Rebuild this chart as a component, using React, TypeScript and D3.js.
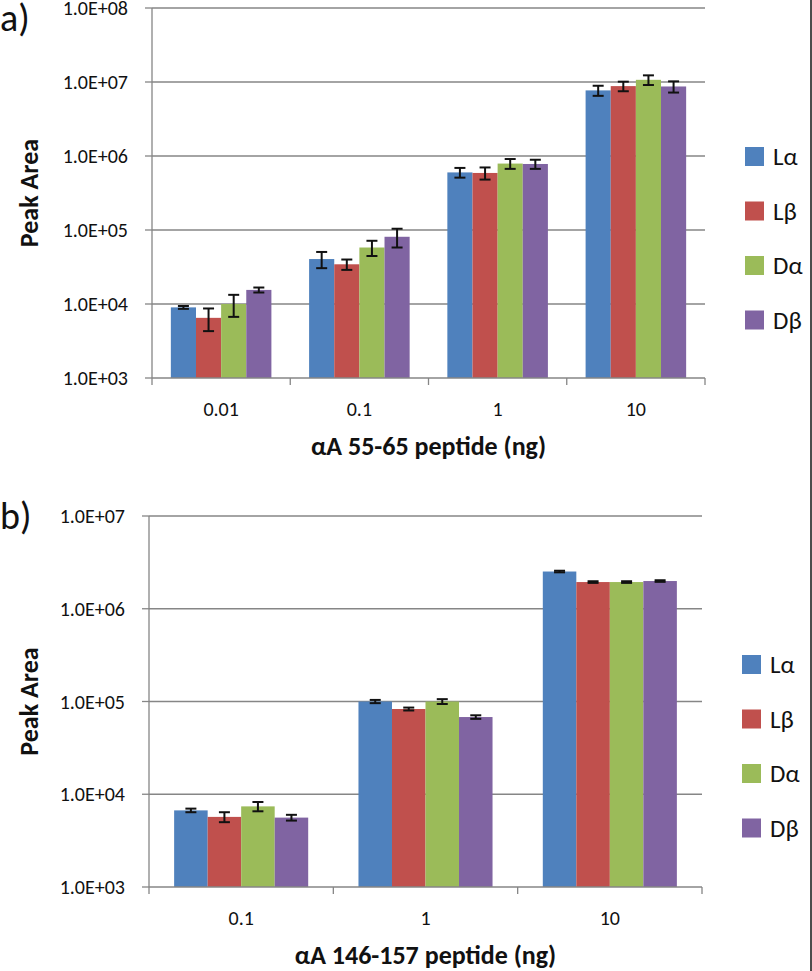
import React, { useEffect, useRef } from "react";
import * as d3 from "d3";

const W = 812;
const H = 971;

const seriesNames = ["Lα", "Lβ", "Dα", "Dβ"];
const seriesColors = ["#4F81BD", "#C0504D", "#9BBB59", "#8064A2"];

// panel a) αA 55-65
const dosesA = ["0.01", "0.1", "1", "10"];
const aLalpha = [9.0e3, 4.05e4, 6.0e5, 7.7e6];
const aLbeta = [6.5e3, 3.44e4, 5.9e5, 8.8e6];
const aDalpha = [1.0e4, 5.8e4, 7.9e5, 1.07e7];
const aDbeta = [1.55e4, 8.1e4, 7.8e5, 8.7e6];
const aLalphaErr = [4e2, 1.0e4, 9e4, 1.2e6];
const aLbetaErr = [2.2e3, 5.5e3, 1.1e5, 1.3e6];
const aDalphaErr = [3.3e3, 1.35e4, 1.2e5, 1.6e6];
const aDbetaErr = [1.2e3, 2.3e4, 1.1e5, 1.5e6];
const ticksA = [1e3, 1e4, 1e5, 1e6, 1e7, 1e8];

// panel b) αA 146-157
const dosesB = ["0.1", "1", "10"];
const bLalpha = [6.7e3, 1.0e5, 2.52e6];
const bLbeta = [5.7e3, 8.3e4, 1.94e6];
const bDalpha = [7.4e3, 1.0e5, 1.94e6];
const bDbeta = [5.6e3, 6.8e4, 1.99e6];
const bLalphaErr = [3e2, 4e3, 5e4];
const bLbetaErr = [7e2, 3e3, 4e4];
const bDalphaErr = [8.5e2, 6e3, 4e4];
const bDbetaErr = [4e2, 3e3, 4e4];
const ticksB = [1e3, 1e4, 1e5, 1e6, 1e7];

const FONT = "Carlito, Lato, 'Open Sans', sans-serif";
const GRID = "#868686";

type Panel = {
  tag: string;
  xTitle: string;
  doses: string[];
  values: number[][];
  errors: number[][];
  ticks: number[];
  left: number;
  right: number;
  top: number;
  bottom: number;
  tagY: number;
  legendX: number;
  legendY: number;
};

const panels: Panel[] = [
  {
    tag: "a)",
    xTitle: "αA 55-65 peptide (ng)",
    doses: dosesA,
    values: [aLalpha, aLbeta, aDalpha, aDbeta],
    errors: [aLalphaErr, aLbetaErr, aDalphaErr, aDbetaErr],
    ticks: ticksA,
    left: 152,
    right: 705,
    top: 8,
    bottom: 378,
    tagY: 31,
    legendX: 745,
    legendY: 147,
  },
  {
    tag: "b)",
    xTitle: "αA 146-157 peptide (ng)",
    doses: dosesB,
    values: [bLalpha, bLbeta, bDalpha, bDbeta],
    errors: [bLalphaErr, bLbetaErr, bDalphaErr, bDbetaErr],
    ticks: ticksB,
    left: 149,
    right: 702,
    top: 516,
    bottom: 887,
    tagY: 529,
    legendX: 742,
    legendY: 655,
  },
];

const fmtTick = (v: number) => {
  const e = Math.round(Math.log10(v));
  return `1.0E+${String(e).padStart(2, "0")}`;
};

const App = () => {
  const svgRef = useRef<SVGSVGElement>(null);

  useEffect(() => {
    const svg = d3.select(svgRef.current);
    svg.selectAll("*").remove();

    svg.append("rect").attr("width", W).attr("height", H).attr("fill", "#fff");

    panels.forEach((p) => {
      const g = svg.append("g");

      const y = d3
        .scaleLog()
        .domain([p.ticks[0], p.ticks[p.ticks.length - 1]])
        .range([p.bottom, p.top]);

      const x = d3.scaleBand().domain(p.doses).range([p.left, p.right]).padding(0);
      const xs = d3
        .scaleBand()
        .domain(seriesNames)
        .range([0, x.bandwidth()])
        .paddingInner(0)
        .paddingOuter(0.75);

      // gridlines
      g.selectAll(".grid")
        .data(p.ticks.slice(1))
        .enter()
        .append("line")
        .attr("x1", p.left)
        .attr("x2", p.right)
        .attr("y1", (d) => y(d))
        .attr("y2", (d) => y(d))
        .attr("stroke", GRID)
        .attr("stroke-width", 1.3);

      // bars
      seriesNames.forEach((s, si) => {
        g.selectAll(`.bar${si}`)
          .data(p.doses)
          .enter()
          .append("rect")
          .attr("x", (d) => x(d)! + xs(s)!)
          .attr("width", xs.bandwidth())
          .attr("y", (_, i) => y(p.values[si][i]))
          .attr("height", (_, i) => p.bottom - y(p.values[si][i]))
          .attr("fill", seriesColors[si]);
      });

      // error bars
      seriesNames.forEach((s, si) => {
        p.doses.forEach((d, i) => {
          const cx = x(d)! + xs(s)! + xs.bandwidth() / 2;
          const v = p.values[si][i];
          const e = p.errors[si][i];
          const y1 = y(v + e);
          const y2 = y(Math.max(v - e, p.ticks[0]));
          const cap = 5.5;
          const eg = g.append("g").attr("stroke", "#111").attr("stroke-width", 2);
          eg.append("line").attr("x1", cx).attr("x2", cx).attr("y1", y1).attr("y2", y2);
          eg.append("line").attr("x1", cx - cap).attr("x2", cx + cap).attr("y1", y1).attr("y2", y1);
          eg.append("line").attr("x1", cx - cap).attr("x2", cx + cap).attr("y1", y2).attr("y2", y2);
        });
      });

      // y axis
      g.append("line")
        .attr("x1", p.left)
        .attr("x2", p.left)
        .attr("y1", p.top)
        .attr("y2", p.bottom)
        .attr("stroke", GRID)
        .attr("stroke-width", 1.3);
      g.selectAll(".ytick")
        .data(p.ticks)
        .enter()
        .append("line")
        .attr("x1", p.left - 7)
        .attr("x2", p.left)
        .attr("y1", (d) => y(d))
        .attr("y2", (d) => y(d))
        .attr("stroke", GRID)
        .attr("stroke-width", 1.3);
      g.selectAll(".ylab")
        .data(p.ticks)
        .enter()
        .append("text")
        .attr("x", p.left - 24)
        .attr("y", (d) => y(d))
        .attr("dy", "0.35em")
        .attr("text-anchor", "end")
        .attr("font-family", FONT)
        .attr("font-size", 20)
        .attr("fill", "#111")
        .text((d) => fmtTick(d));

      // x axis
      g.append("line")
        .attr("x1", p.left)
        .attr("x2", p.right)
        .attr("y1", p.bottom)
        .attr("y2", p.bottom)
        .attr("stroke", GRID)
        .attr("stroke-width", 1.3);
      const edges = p.doses.map((d) => x(d)!).concat([p.right]);
      g.selectAll(".xtick")
        .data(edges)
        .enter()
        .append("line")
        .attr("x1", (d) => d)
        .attr("x2", (d) => d)
        .attr("y1", p.bottom)
        .attr("y2", p.bottom + 7)
        .attr("stroke", GRID)
        .attr("stroke-width", 1.3);
      g.selectAll(".xlab")
        .data(p.doses)
        .enter()
        .append("text")
        .attr("x", (d) => x(d)! + x.bandwidth() / 2)
        .attr("y", p.bottom + 31)
        .attr("dy", "0.35em")
        .attr("text-anchor", "middle")
        .attr("font-family", FONT)
        .attr("font-size", 20)
        .attr("fill", "#111")
        .text((d) => d);

      // titles
      g.append("text")
        .attr("x", (p.left + p.right) / 2)
        .attr("y", p.bottom + 68)
        .attr("dy", "0.35em")
        .attr("text-anchor", "middle")
        .attr("font-family", FONT)
        .attr("font-weight", "bold")
        .attr("font-size", 26)
        .attr("fill", "#111")
        .text(p.xTitle);
      g.append("text")
        .attr("transform", `translate(29, ${(p.top + p.bottom) / 2}) rotate(-90)`)
        .attr("dy", "0.35em")
        .attr("text-anchor", "middle")
        .attr("font-family", FONT)
        .attr("font-weight", "bold")
        .attr("font-size", 26)
        .attr("fill", "#111")
        .text("Peak Area");
      g.append("text")
        .attr("x", 0)
        .attr("y", p.tagY)
        .attr("font-family", FONT)
        .attr("font-size", 38)
        .attr("fill", "#111")
        .text(p.tag);

      // legend
      const lg = g.append("g").attr("transform", `translate(${p.legendX}, ${p.legendY})`);
      seriesNames.forEach((s, si) => {
        lg.append("rect")
          .attr("x", 0)
          .attr("y", si * 54.5)
          .attr("width", 19)
          .attr("height", 19)
          .attr("fill", seriesColors[si]);
        lg.append("text")
          .attr("x", 28)
          .attr("y", si * 54.5 + 9.5)
          .attr("dy", "0.35em")
          .attr("font-family", FONT)
          .attr("font-size", 25)
          .attr("fill", "#111")
          .text(s);
      });
    });

    // right border line
    svg.append("line")
      .attr("x1", 811)
      .attr("x2", 811)
      .attr("y1", 0)
      .attr("y2", H)
      .attr("stroke", "#111")
      .attr("stroke-width", 1.5);
  }, []);

  return (
    <svg
      ref={svgRef}
      width={W}
      height={H}
      style={{ position: "absolute", left: 0, top: 0 }}
    />
  );
};

export default App;
